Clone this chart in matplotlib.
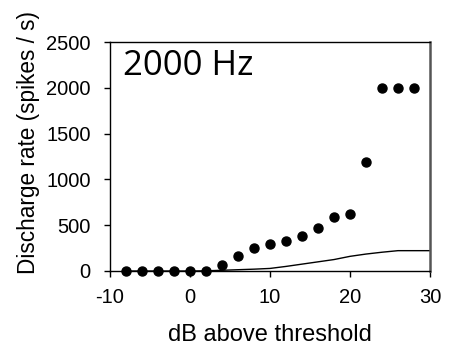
import matplotlib
matplotlib.use("Agg")
import matplotlib.pyplot as plt

# data
db_points = [-8, -6, -4, -2, 0, 2, 4, 6, 8, 10, 12, 14, 16, 18, 20, 22, 24, 26, 28]
rate_points = [0, 0, 0, 0, 0, 0, 69, 167, 250, 294, 330, 385, 464, 591, 620, 1194, 2000, 2000, 2000]
db_line = [-8, -6, -4, -2, 0, 2, 4, 6, 8, 10, 12, 14, 16, 18, 20, 22, 24, 26, 28, 30]
rate_line = [0, 0, 0, 0, 0, 2, 8, 14, 20, 28, 50, 75, 100, 125, 160, 185, 205, 222, 222, 222]
xticks = [-10, 0, 10, 20, 30]
yticks = [0, 500, 1000, 1500, 2000, 2500]

plt.rcParams['font.family'] = ['Liberation Sans', 'DejaVu Sans']
plt.rcParams['axes.unicode_minus'] = False

fig = plt.figure(figsize=(4.63, 3.49), dpi=100)
ax = fig.add_axes([110/463, 1-271/349, 320/463, 229/349])

ax.plot(db_line, rate_line, color='black', lw=1.0, zorder=2)
ax.plot(db_points, rate_points, 'o', color='black', markersize=6.5, clip_on=False, zorder=3)

ax.set_xlim(-10, 30)
ax.set_ylim(0, 2500)
ax.set_xticks(xticks)
ax.set_yticks(yticks)
ax.tick_params(axis='both', direction='out', length=4, width=1, labelsize=14.5, colors='black')
ax.tick_params(axis='x', pad=8)
ax.tick_params(axis='y', pad=10)

for s in ['left', 'bottom', 'top']:
    ax.spines[s].set_color('black')
    ax.spines[s].set_linewidth(1.0)
ax.spines['right'].set_color('#555555')
ax.spines['right'].set_linewidth(1.8)

ax.set_xlabel('dB above threshold', fontsize=17)
ax.xaxis.set_label_coords(0.5, -0.23)
ax.set_ylabel('Discharge rate (spikes / s)', fontsize=16.3)
ax.yaxis.set_label_coords(-70/320, (271-142)/229)

fig.text(123/463, 1-75/349, '2000 Hz', fontsize=25, family=['Open Sans', 'DejaVu Sans'],
         va='baseline', ha='left')

fig.savefig('out.png', dpi=100)
